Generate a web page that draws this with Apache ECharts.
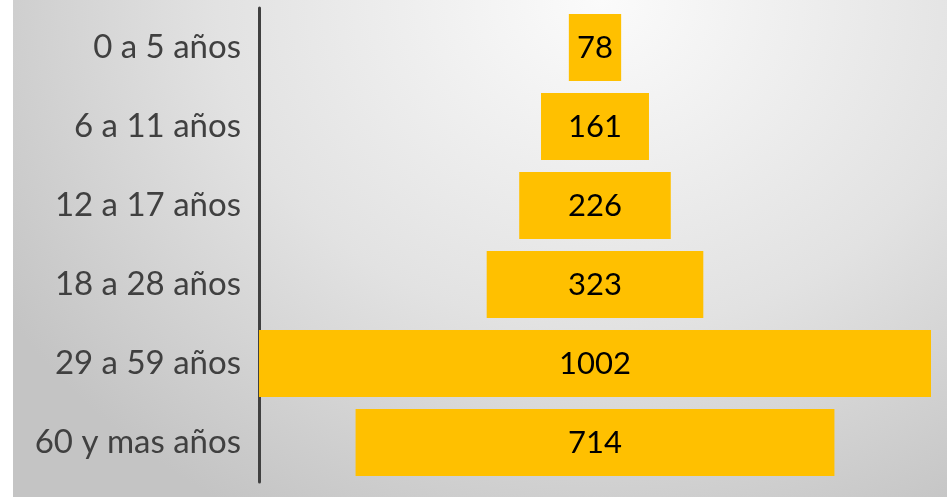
<!DOCTYPE html>
<html>
<head>
<meta charset="utf-8">
<script src="https://cdn.jsdelivr.net/npm/echarts@6/dist/echarts.min.js"></script>
<style>
  html, body { margin: 0; padding: 0; background: #fff; }
  .wrap {
    position: relative;
    width: 947px;
    height: 497px;
  }
  .bg {
    position: absolute;
    left: 13px; top: 0; right: 0; bottom: 0;
    background: radial-gradient(ellipse 75% 120% at 63% 0%, #fbfbfb 0%, #e2e2e2 55%, #c4c4c4 100%);
  }
  #chart {
    position: absolute;
    left: 0; top: 0;
    width: 947px;
    height: 497px;
  }
</style>
</head>
<body>
<div class="wrap">
  <div class="bg"></div>
  <div id="chart"></div>
</div>
<script>
// datos
const categorias = ['0 a 5 años', '6 a 11 años', '12 a 17 años', '18 a 28 años', '29 a 59 años', '60 y mas años']
const valores = [78, 161, 226, 323, 1002, 714]

const maximo = Math.max(...valores)
// desplazamiento invisible para centrar cada barra
const relleno = valores.map(v => (maximo - v) / 2)

const chart = echarts.init(document.getElementById('chart'))

const option = {
  backgroundColor: 'transparent',
  animation: false,
  grid: {
    left: 259,
    right: 16,
    top: 8,
    bottom: 15
  },
  xAxis: {
    type: 'value',
    min: 0,
    max: maximo,
    show: false
  },
  yAxis: {
    type: 'category',
    inverse: true,
    data: categorias,
    axisLine: {
      show: true,
      lineStyle: { color: '#404040', width: 3 }
    },
    axisTick: { show: false },
    axisLabel: {
      margin: 18,
      color: '#404040',
      fontSize: 33,
      fontFamily: 'Lato'
    }
  },
  series: [
    {
      name: 'relleno',
      type: 'bar',
      stack: 'total',
      data: relleno,
      barWidth: 67,
      itemStyle: { color: 'transparent' },
      silent: true
    },
    {
      name: 'personas',
      type: 'bar',
      stack: 'total',
      data: valores,
      barWidth: 67,
      itemStyle: { color: '#ffc000' },
      label: {
        show: true,
        position: 'inside',
        color: '#000',
        fontSize: 31,
        fontFamily: 'Lato'
      }
    }
  ]
}

chart.setOption(option)
</script>
</body>
</html>
